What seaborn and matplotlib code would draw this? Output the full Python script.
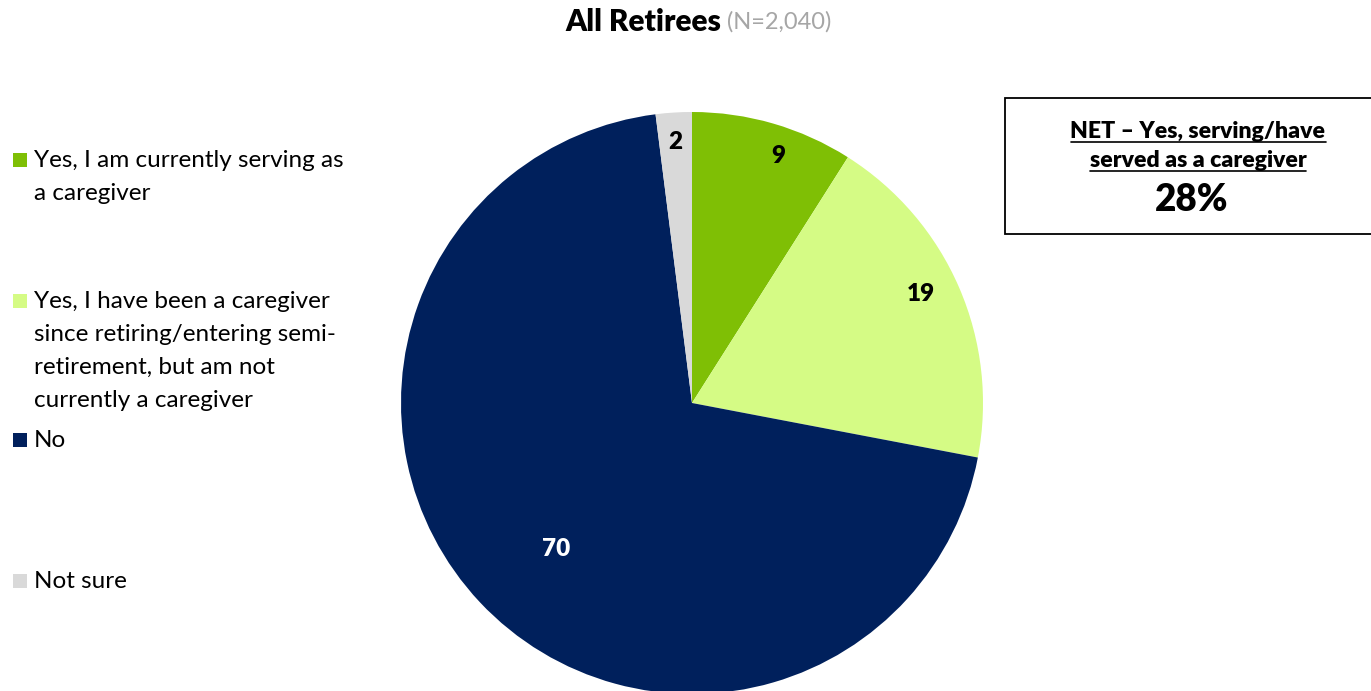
import matplotlib
matplotlib.use("Agg")
import matplotlib.pyplot as plt
import seaborn as sns
import numpy as np
from matplotlib.patches import Rectangle
from matplotlib.lines import Line2D

# Survey responses (percent of all retirees)
categories = [
    ["Yes, I am currently serving as", "a caregiver"],
    ["Yes, I have been a caregiver", "since retiring/entering semi-",
     "retirement, but am not", "currently a caregiver"],
    ["No"],
    ["Not sure"],
]
values = [9, 19, 70, 2]
colors = ["#7FBF05", "#D5FB85", "#00205C", "#D9D9D9"]
label_colors = ["black", "black", "white", "black"]
label_radius = [0.90, 0.87, 0.685, 0.90]
label_nudge_deg = [-3, 2, 4, 0]

title = "All Retirees"
subtitle = "(N=2,040)"
net_heading = ["NET \u2013 Yes, serving/have", "served as a caregiver"]
net_value = 28

sns.set_theme(style="white")
plt.rcParams["font.family"] = ["Lato", "DejaVu Sans"]

W, H = 1371, 691
fig = plt.figure(figsize=(W / 100, H / 100), dpi=100)
fig.patch.set_facecolor("white")


def fx(x):
    return x / W


def fy(y):
    return (H - y) / H


# Pie chart
cx, cy, r = 692, 403, 291
ax = fig.add_axes([(cx - r) / W, (H - cy - r) / H, 2 * r / W, 2 * r / H])
wedges, _ = ax.pie(values, colors=colors, startangle=90, counterclock=False,
                   radius=1, wedgeprops=dict(linewidth=0))
ax.set_xlim(-1, 1)
ax.set_ylim(-1, 1)
ax.set_aspect("equal")
ax.axis("off")
for w, v, c, lr, nd in zip(wedges, values, label_colors, label_radius,
                           label_nudge_deg):
    ang = np.deg2rad((w.theta1 + w.theta2) / 2 + nd)
    ax.text(lr * np.cos(ang), lr * np.sin(ang), str(v), ha="center",
            va="center", fontsize=17.5, fontweight="heavy", color=c)

# Title
fig.text(fx(721), fy(22), title, ha="right", va="center", fontsize=21.5,
         fontweight="heavy", color="black")
fig.text(fx(727), fy(22), subtitle, ha="left", va="center", fontsize=17,
         color="#A6A6A6")

# Legend
baselines = [167, 308, 447, 588]
line_gap = 33
for lines, col, base in zip(categories, colors, baselines):
    fig.add_artist(Rectangle((fx(13), fy(base)), 14 / W, 14 / H,
                             transform=fig.transFigure, facecolor=col,
                             edgecolor="none"))
    for i, line in enumerate(lines):
        fig.text(fx(34), fy(base + i * line_gap), line, ha="left",
                 va="baseline", fontsize=17.5, color="black")

# NET callout box
fig.add_artist(Rectangle((fx(1005), fy(234)), (1400 - 1005) / W, (234 - 98) / H,
                         transform=fig.transFigure, facecolor="white",
                         edgecolor="black", linewidth=1.3, clip_on=False))
renderer = fig.canvas.get_renderer()
for line, base in zip(net_heading, [138, 167]):
    t = fig.text(fx(1198), fy(base), line, ha="center", va="baseline",
                 fontsize=16.6, fontweight="heavy", color="black")
    bb = t.get_window_extent(renderer)
    y_ul = H - base - 4
    fig.add_artist(Line2D([bb.x0, bb.x1], [y_ul, y_ul], transform=None,
                          color="black", linewidth=1.2))
fig.text(fx(1192), fy(211), f"{net_value}%", ha="center", va="baseline",
         fontsize=26.5, fontweight="heavy", color="black")

fig.savefig("out.png", dpi=100, facecolor="white")
